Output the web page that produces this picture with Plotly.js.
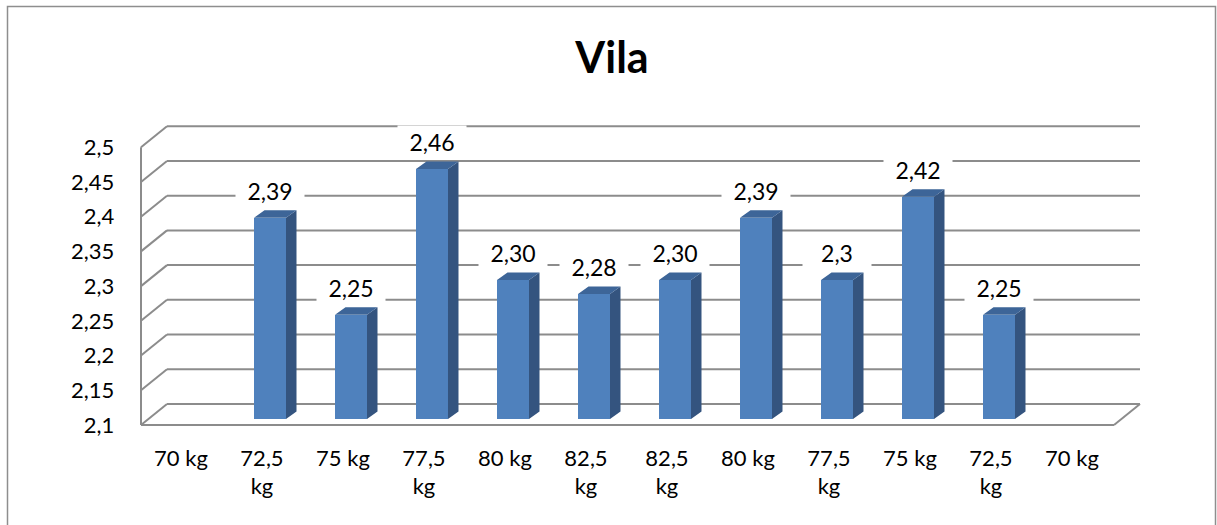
<!DOCTYPE html>
<html>
<head>
<meta charset="utf-8">
<script src="https://cdn.plot.ly/plotly-3.0.1.min.js"></script>
<style>html,body{margin:0;padding:0;background:#fff;}#chart{width:1217px;height:525px;}</style>
</head>
<body>
<div id="chart"></div>
<script>
// ---- data ----
const categories = ['70 kg','72,5<br>kg','75 kg','77,5<br>kg','80 kg','82,5<br>kg','82,5<br>kg','80 kg','77,5<br>kg','75 kg','72,5<br>kg','70 kg'];
const values = [null, 2.39, 2.25, 2.46, 2.30, 2.28, 2.30, 2.39, 2.30, 2.42, 2.25, null];
const valueLabels = ['', '2,39', '2,25', '2,46', '2,30', '2,28', '2,30', '2,39', '2,3', '2,42', '2,25', ''];
const yTickVals = [2.1, 2.15, 2.2, 2.25, 2.3, 2.35, 2.4, 2.45, 2.5];
const yTickText = ['2,1', '2,15', '2,2', '2,25', '2,3', '2,35', '2,4', '2,45', '2,5'];
const baseValue = 2.1;
const chartTitle = 'Vila';

// ---- geometry (pixels) ----
const W = 1217, H = 525;
const pxPerCat = 81, cat0Px = 189;
const pxPerVal = 694.4, basePx = 419;
const xRange = [-0.8, 11.9], yRange = [2.08, 2.53];
const L = cat0Px + xRange[0] * pxPerCat, R = cat0Px + xRange[1] * pxPerCat;
const T = basePx - (yRange[1] - baseValue) * pxPerVal, B = basePx + (baseValue - yRange[0]) * pxPerVal;
const px2x = p => p / pxPerCat, px2y = p => p / pxPerVal;

const frontDy = -px2y(6), backDy = px2y(15);
const xFL = (141 - cat0Px) / pxPerCat;
const xBL = xFL + px2x(26);
const xBR = (1140 - cat0Px) / pxPerCat;
const xFR = xBR - px2x(26);
const barW = 0.395;
const ddx = px2x(10.5), ddy = px2y(7.5);

const FONT = 'Lato, "Open Sans", sans-serif';
const gridColor = '#8c8c8c';

// ---- frame shapes ----
const shapes = [];
const ln = (x0, y0, x1, y1) => shapes.push({type:'line', xref:'x', yref:'y', x0, y0, x1, y1, layer:'below', line:{color:gridColor, width:2}});
yTickVals.forEach(t => {
  ln(xBL, t + backDy, xBR, t + backDy);
  ln(xFL, t + frontDy, xBL, t + backDy);
});
ln(xFL, yTickVals[0] + frontDy, xFL, yTickVals[yTickVals.length-1] + frontDy);
ln(xFL, baseValue + frontDy, xFR, baseValue + frontDy);
ln(xFR, baseValue + frontDy, xBR, baseValue + backDy);
// outer border
shapes.push({type:'rect', xref:'paper', yref:'paper', x0:7.5/W, x1:1215.5/W, y0:-0.1, y1:1-6.5/H, line:{color:'#8e8e8e', width:1.5}, layer:'below'});

// ---- bars ----
const idx = values.map((v,i)=>i).filter(i => values[i] !== null);
const frontFace = {
  type:'bar', x: idx, y: idx.map(i => values[i] - baseValue), base: baseValue,
  width: barW, marker:{color:'#4F81BD', line:{width:0}}, hoverinfo:'skip', showlegend:false
};
const sx = [], sy = [], tx = [], ty = [];
idx.forEach(i => {
  const v = values[i], r = i + barW/2, l = i - barW/2;
  sx.push(r, r, r+ddx, r+ddx, r, null);
  sy.push(baseValue, v, v+ddy, baseValue+ddy, baseValue, null);
  tx.push(l, r, r+ddx, l+ddx, l, null);
  ty.push(v, v, v+ddy, v+ddy, v, null);
});
const sideFace = {type:'scatter', mode:'lines', x:sx, y:sy, fill:'toself', fillcolor:'#34547f', line:{width:0, color:'#34547f'}, hoverinfo:'skip', showlegend:false};
const topFace = {type:'scatter', mode:'lines', x:tx, y:ty, fill:'toself', fillcolor:'#3d6598', line:{width:0, color:'#3d6598'}, hoverinfo:'skip', showlegend:false};

// ---- data labels ----
const annotations = idx.map(i => ({
  xref:'x', yref:'y', x:i, y:values[i], yshift:27, text:valueLabels[i], showarrow:false,
  bgcolor:'#ffffff', width:64, borderpad:2, font:{family:FONT, size:23, color:'#000'}
}));

const layout = {
  width: W, height: H,
  margin:{l:0, r:0, t:0, b:0},
  paper_bgcolor:'#fff', plot_bgcolor:'rgba(0,0,0,0)',
  title:{text:chartTitle, x:612/W, y:1-58/H, xanchor:'center', yanchor:'middle', xref:'paper', yref:'paper',
         font:{family:FONT, size:43, color:'#000', weight:'bold'}},
  xaxis:{domain:[L/W, R/W], range:xRange, showgrid:false, zeroline:false, showline:false,
         tickmode:'array', tickvals:categories.map((c,i)=>i), ticktext:categories,
         ticks:'', ticklabelshift:-8, ticklabelstandoff:10, tickangle:0,
         tickfont:{family:FONT, size:22, color:'#000'}, fixedrange:true},
  yaxis:{domain:[1-B/H, 1-T/H], range:yRange, showgrid:false, zeroline:false, showline:false,
         tickmode:'array', tickvals:yTickVals, ticktext:yTickText, ticks:'',
         ticklabelshift:6, ticklabelstandoff:9,
         tickfont:{family:FONT, size:22, color:'#000'}, fixedrange:true},
  shapes, annotations, showlegend:false, bargap:0
};

Plotly.newPlot('chart', [frontFace, sideFace, topFace], layout, {displayModeBar:false, staticPlot:true});
</script>
</body>
</html>
